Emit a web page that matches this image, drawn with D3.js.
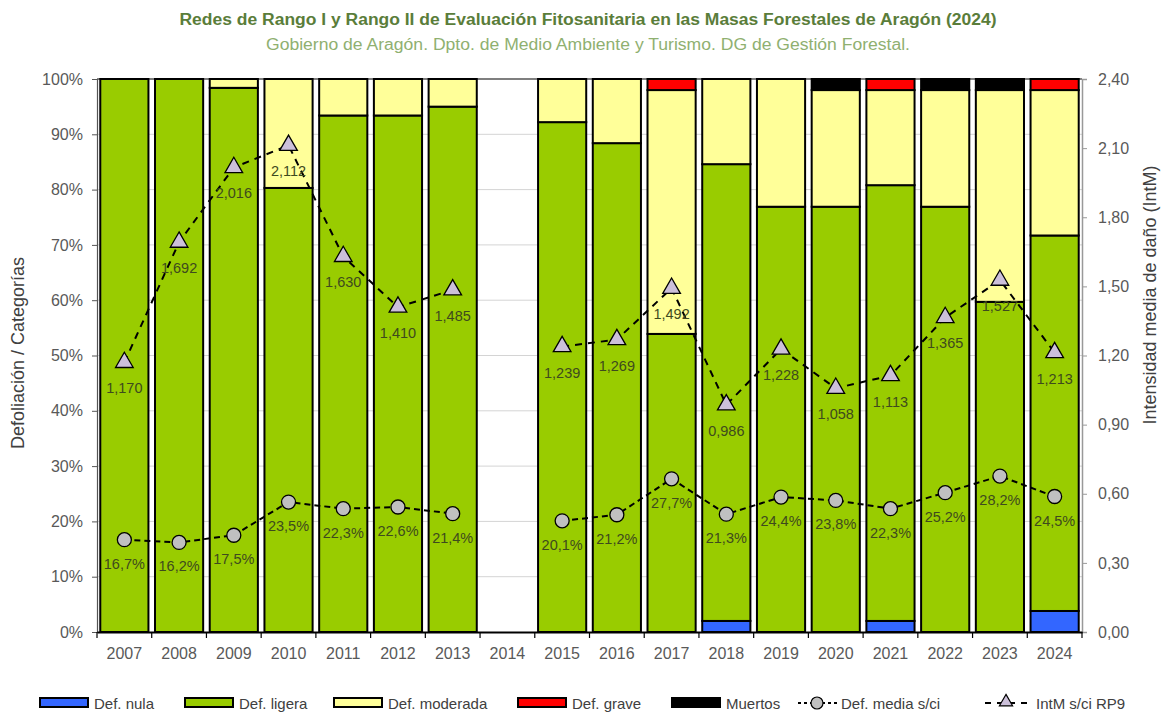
<!DOCTYPE html>
<html>
<head>
<meta charset="utf-8">
<script src="https://cdn.jsdelivr.net/npm/d3@7"></script>
<style>
  body { margin: 0; background: #fff; }
  svg { font-family: "Liberation Sans", Arial, sans-serif; }
</style>
</head>
<body>
<svg width="1168" height="715"></svg>
<script>
// años y categorías de defoliación (% de árboles)
var years = ["2007","2008","2009","2010","2011","2012","2013","2014","2015","2016","2017","2018","2019","2020","2021","2022","2023","2024"];
var defNula     = [0, 0, 0, 0, 0, 0, 0, null, 0, 0, 0, 2.0, 0, 0, 2.0, 0, 0, 3.8];
var defLigera   = [100, 100, 98.4, 80.3, 93.4, 93.4, 95.0, null, 92.2, 88.4, 53.9, 82.6, 76.9, 76.9, 78.8, 76.9, 59.7, 67.9];
var defModerada = [0, 0, 1.6, 19.7, 6.6, 6.6, 5.0, null, 7.8, 11.6, 44.1, 15.4, 23.1, 21.1, 17.2, 21.1, 38.3, 26.3];
var defGrave    = [0, 0, 0, 0, 0, 0, 0, null, 0, 0, 2.0, 0, 0, 0, 2.0, 0, 0, 2.0];
var muertos     = [0, 0, 0, 0, 0, 0, 0, null, 0, 0, 0, 0, 0, 2.0, 0, 2.0, 2.0, 0];
var defMedia    = [16.7, 16.2, 17.5, 23.5, 22.3, 22.6, 21.4, null, 20.1, 21.2, 27.7, 21.3, 24.4, 23.8, 22.3, 25.2, 28.2, 24.5];
var intM        = [1.170, 1.692, 2.016, 2.112, 1.630, 1.410, 1.485, null, 1.239, 1.269, 1.492, 0.986, 1.228, 1.058, 1.113, 1.365, 1.527, 1.213];

var seriesNames  = ["Def. nula", "Def. ligera", "Def. moderada", "Def. grave", "Muertos"];
var seriesColors = ["#3366ff", "#99cc00", "#ffff99", "#ff0000", "#000000"];
var leftTicks  = [0,10,20,30,40,50,60,70,80,90,100];
var rightTicks = [0,0.3,0.6,0.9,1.2,1.5,1.8,2.1,2.4];

var svg = d3.select("svg");
var mLeft = 97, mRight = 1082, mTop = 79, mBottom = 632;

var x = d3.scaleBand().domain(years).range([mLeft, mRight]).paddingInner(0.12).paddingOuter(0.06);
var y = d3.scaleLinear().domain([0, 100]).range([mBottom, mTop]);
var y2 = d3.scaleLinear().domain([0, 2.4]).range([mBottom, mTop]);

var comma = function(v, n) { return v.toFixed(n).replace(".", ","); };

// gridlines
svg.append("g").selectAll("line").data(leftTicks.slice(1)).enter().append("line")
  .attr("x1", mLeft).attr("x2", mRight)
  .attr("y1", function(d) { return y(d); }).attr("y2", function(d) { return y(d); })
  .attr("stroke", function(d) { return d == 100 ? "#555" : "#d4d4d4"; })
  .attr("stroke-width", function(d) { return d == 100 ? 1.5 : 1; });

// stacked bars
var rows = years.map(function(yr, i) {
  return { year: yr, v: [defNula[i], defLigera[i], defModerada[i], defGrave[i], muertos[i]] };
}).filter(function(r) { return r.v[1] != null; });

var stack = d3.stack().keys([0,1,2,3,4]).value(function(r, k) { return r.v[k]; });
var layers = stack(rows);

svg.append("g").selectAll("g").data(layers).enter().append("g")
  .attr("fill", function(d, i) { return seriesColors[i]; })
  .selectAll("rect").data(function(d) { return d.filter(function(s) { return s[1] - s[0] > 0; }); })
  .enter().append("rect")
  .attr("x", function(d) { return x(d.data.year); })
  .attr("width", x.bandwidth())
  .attr("y", function(d) { return y(d[1]); })
  .attr("height", function(d) { return y(d[0]) - y(d[1]); })
  .attr("stroke", "#000").attr("stroke-width", 2);

// axes
var axL = svg.append("g").attr("transform", "translate(" + mLeft + ",0)")
  .call(d3.axisLeft(y).tickValues(leftTicks).tickSize(5).tickFormat(function(d) { return d + "%"; }));
var axR = svg.append("g").attr("transform", "translate(" + mRight + ",0)")
  .call(d3.axisRight(y2).tickValues(rightTicks).tickSize(5).tickFormat(function(d) { return comma(d, 2); }));
var axB = svg.append("g").attr("transform", "translate(0," + mBottom + ")")
  .call(d3.axisBottom(x).tickSize(0).tickPadding(16));

[axL, axR, axB].forEach(function(a) {
  a.selectAll("text").attr("font-size", "16px").attr("fill", "#595959")
   .attr("font-family", "Liberation Sans, Arial, sans-serif");
});
axL.selectAll("text").attr("dx", "-6");
axR.selectAll("text").attr("dx", "8");
axL.select(".domain").attr("stroke", "#555").attr("stroke-width", 1.2);
axL.selectAll(".tick line").attr("stroke", "#555");
axR.select(".domain").attr("stroke", "#999").attr("stroke-width", 1.5);
axR.selectAll(".tick line").attr("stroke", "#999");
axB.select(".domain").attr("stroke", "#000").attr("stroke-width", 2);

// category separator ticks on x axis
var step = x.step();
svg.append("g").selectAll("line").data(years.concat(["end"])).enter().append("line")
  .attr("x1", function(d, i) { return mLeft + i * step; })
  .attr("x2", function(d, i) { return mLeft + i * step; })
  .attr("y1", mBottom).attr("y2", mBottom + 6)
  .attr("stroke", "#000").attr("stroke-width", 1.2);

// lines
var cx = function(d, i) { return x(years[i]) + x.bandwidth() / 2; };
var lineMedia = d3.line().defined(function(d) { return d != null; }).x(cx).y(function(d) { return y(d); });
var lineInt = d3.line().defined(function(d) { return d != null; }).x(cx).y(function(d) { return y2(d); });

svg.append("path").datum(defMedia).attr("d", lineMedia)
  .attr("fill", "none").attr("stroke", "#000").attr("stroke-width", 2).attr("stroke-dasharray", "6,4");
svg.append("path").datum(intM).attr("d", lineInt)
  .attr("fill", "none").attr("stroke", "#000").attr("stroke-width", 2).attr("stroke-dasharray", "7,6");

var labColor = "#3e4a1e";

var mediaPts = defMedia.map(function(v, i) { return { v: v, i: i }; }).filter(function(d) { return d.v != null; });
svg.append("g").selectAll("circle").data(mediaPts).enter().append("circle")
  .attr("cx", function(d) { return cx(d.v, d.i); })
  .attr("cy", function(d) { return y(d.v); })
  .attr("r", 7).attr("fill", "#c0c0c0").attr("stroke", "#000").attr("stroke-width", 1.3);
svg.append("g").selectAll("text").data(mediaPts).enter().append("text")
  .attr("x", function(d) { return cx(d.v, d.i); })
  .attr("y", function(d) { return y(d.v) + 29; })
  .attr("text-anchor", "middle").attr("font-size", "14.5px").attr("fill", labColor)
  .text(function(d) { return comma(d.v, 1) + "%"; });

var intPts = intM.map(function(v, i) { return { v: v, i: i }; }).filter(function(d) { return d.v != null; });
var tri = d3.symbol().type(d3.symbolTriangle).size(135);
svg.append("g").selectAll("path").data(intPts).enter().append("path")
  .attr("d", tri)
  .attr("transform", function(d) { return "translate(" + cx(d.v, d.i) + "," + y2(d.v) + ")"; })
  .attr("fill", "#ccc0da").attr("stroke", "#000").attr("stroke-width", 1.3);
svg.append("g").selectAll("text").data(intPts).enter().append("text")
  .attr("x", function(d) { return cx(d.v, d.i); })
  .attr("y", function(d) { return y2(d.v) + 31; })
  .attr("text-anchor", "middle").attr("font-size", "14.5px").attr("fill", labColor)
  .text(function(d) { return comma(d.v, 3); });

// titles
svg.append("text").attr("x", 588).attr("y", 25).attr("text-anchor", "middle")
  .attr("font-size", "16px").attr("font-weight", "bold").attr("fill", "#5a7d3a")
  .attr("textLength", 817).attr("lengthAdjust", "spacingAndGlyphs")
  .text("Redes de Rango I y Rango II de Evaluación Fitosanitaria en las Masas Forestales de Aragón (2024)");
svg.append("text").attr("x", 588).attr("y", 50).attr("text-anchor", "middle")
  .attr("font-size", "16px").attr("fill", "#8fb070")
  .attr("textLength", 644).attr("lengthAdjust", "spacingAndGlyphs")
  .text("Gobierno de Aragón. Dpto. de Medio Ambiente y Turismo. DG de Gestión Forestal.");

svg.append("text").attr("transform", "translate(24,353) rotate(-90)").attr("text-anchor", "middle")
  .attr("font-size", "18px").attr("fill", "#404040").text("Defoliación / Categorías");
svg.append("text").attr("transform", "translate(1156,295) rotate(-90)").attr("text-anchor", "middle")
  .attr("font-size", "18px").attr("fill", "#404040").text("Intensidad media de daño (IntM)");

// legend
var legX = [40, 185, 334, 518, 672];
var lg = svg.append("g");
seriesNames.forEach(function(n, i) {
  lg.append("rect").attr("x", legX[i]).attr("y", 698).attr("width", 48).attr("height", 9)
    .attr("fill", seriesColors[i]).attr("stroke", "#000").attr("stroke-width", 2);
  lg.append("text").attr("x", legX[i] + 54).attr("y", 709).attr("font-size", "15px")
    .attr("fill", "#404040").text(n);
});
lg.append("line").attr("x1", 798).attr("x2", 837).attr("y1", 703).attr("y2", 703)
  .attr("stroke", "#000").attr("stroke-width", 2).attr("stroke-dasharray", "3,3");
lg.append("circle").attr("cx", 817).attr("cy", 703).attr("r", 6)
  .attr("fill", "#c0c0c0").attr("stroke", "#000").attr("stroke-width", 1.2);
lg.append("text").attr("x", 841).attr("y", 709).attr("font-size", "15px").attr("fill", "#404040").text("Def. media s/ci");
lg.append("line").attr("x1", 985).attr("x2", 1030).attr("y1", 703).attr("y2", 703)
  .attr("stroke", "#000").attr("stroke-width", 2).attr("stroke-dasharray", "6,6");
lg.append("path").attr("d", d3.symbol().type(d3.symbolTriangle).size(75))
  .attr("transform", "translate(1006,702)")
  .attr("fill", "#ccc0da").attr("stroke", "#000").attr("stroke-width", 1.2);
lg.append("text").attr("x", 1036).attr("y", 709).attr("font-size", "15px").attr("fill", "#404040").text("IntM s/ci RP9");
</script>
</body>
</html>
